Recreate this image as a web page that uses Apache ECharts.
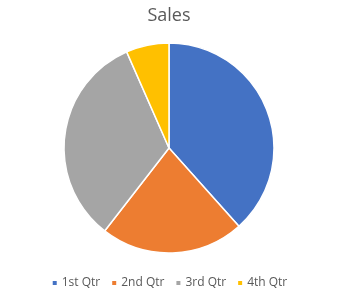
<!DOCTYPE html>
<html><head><meta charset="utf-8">
<script src="https://cdn.jsdelivr.net/npm/echarts@6/dist/echarts.min.js"></script>
<style>html,body{margin:0;padding:0;background:#fff}#c{width:338px;height:299px}</style>
</head><body><div id="c"></div>
<script>
const categories = ['1st Qtr', '2nd Qtr', '3rd Qtr', '4th Qtr'];
const values = [38.4, 22.1, 32.9, 6.6];
const colors = ['#4472C4', '#ED7D31', '#A5A5A5', '#FFC000'];
const chart = echarts.init(document.getElementById('c'));
chart.setOption({
  animation: false,
  title: { text: 'Sales', left: 'center', top: 2, textStyle: { fontFamily: 'Open Sans', fontSize: 18, fontWeight: 'normal', color: '#595959' } },
  legend: { bottom: 5, left: 'center', itemWidth: 6, itemHeight: 6, itemGap: 10, icon: 'rect',
    textStyle: { fontFamily: 'Open Sans', fontSize: 12, color: '#595959', padding: [0,0,0,-1] },
    data: categories },
  series: [{
    type: 'pie', center: [169, 148], radius: 105, startAngle: 90, clockwise: true,
    label: { show: false }, labelLine: { show: false },
    itemStyle: { borderColor: '#fff', borderWidth: 1.5 },
    data: categories.map((c, i) => ({ name: c, value: values[i], itemStyle: { color: colors[i] } }))
  }]
});
</script></body></html>
